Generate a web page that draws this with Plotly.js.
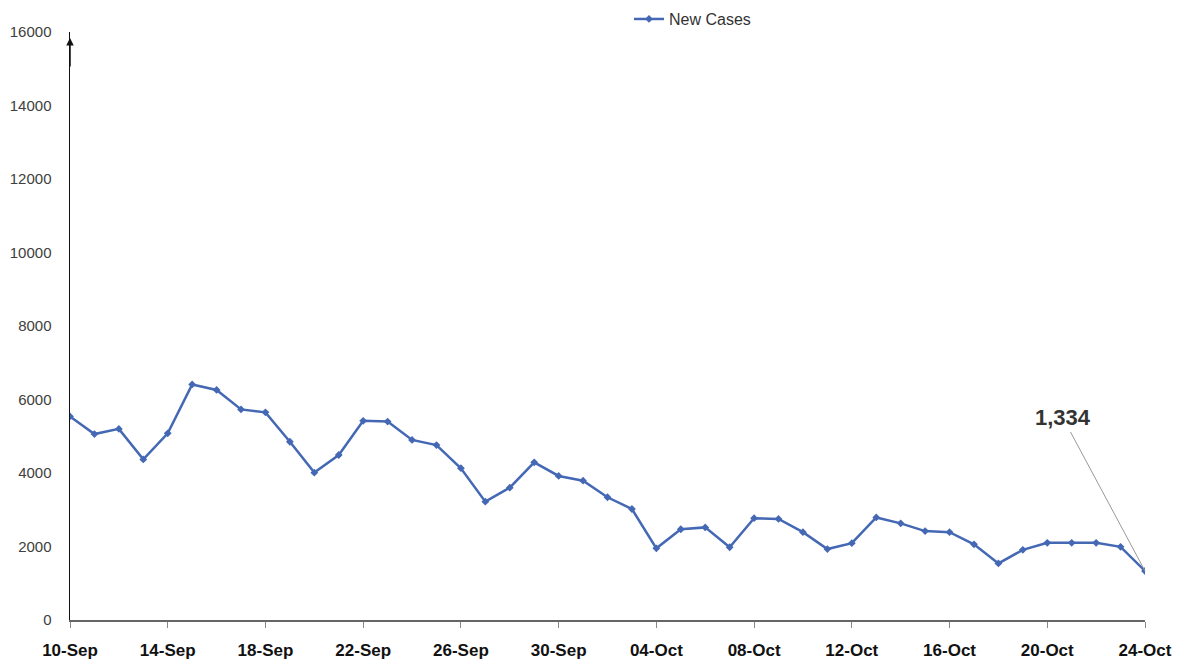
<!DOCTYPE html>
<html>
<head>
<meta charset="utf-8">
<script src="https://cdn.plot.ly/plotly-3.0.1.min.js"></script>
<style>html,body{margin:0;padding:0;background:#fff;}#chart{width:1181px;height:664px;}</style>
</head>
<body>
<div id="chart"></div>
<script>
const dates = ["10-Sep","11-Sep","12-Sep","13-Sep","14-Sep","15-Sep","16-Sep","17-Sep","18-Sep","19-Sep",
  "20-Sep","21-Sep","22-Sep","23-Sep","24-Sep","25-Sep","26-Sep","27-Sep","28-Sep","29-Sep",
  "30-Sep","01-Oct","02-Oct","03-Oct","04-Oct","05-Oct","06-Oct","07-Oct","08-Oct","09-Oct",
  "10-Oct","11-Oct","12-Oct","13-Oct","14-Oct","15-Oct","16-Oct","17-Oct","18-Oct","19-Oct",
  "20-Oct","21-Oct","22-Oct","23-Oct","24-Oct"];
const newCases = [5540,5060,5200,4370,5080,6410,6260,5730,5650,4850,
  4010,4490,5420,5400,4900,4760,4130,3220,3600,4290,
  3920,3790,3340,3020,1950,2470,2520,1980,2770,2750,
  2390,1930,2090,2790,2630,2420,2390,2060,1540,1910,
  2100,2100,2100,1990,1334];
const tickLabels = ["10-Sep","14-Sep","18-Sep","22-Sep","26-Sep","30-Sep","04-Oct","08-Oct","12-Oct","16-Oct","20-Oct","24-Oct"];
const yTicks = [0,2000,4000,6000,8000,10000,12000,14000,16000];
const lastLabel = "1,334";

const blue = "#4468b4";
const trace = {
  x: dates, y: newCases, type: "scatter", mode: "lines+markers", name: "New Cases",
  line: {color: blue, width: 2.5},
  marker: {color: blue, size: 6, symbol: "diamond"}
};
const layout = {
  width: 1181, height: 664,
  margin: {l: 70, r: 36, t: 32, b: 44, autoexpand: false},
  paper_bgcolor: "#fff", plot_bgcolor: "#fff",
  font: {family: "Liberation Sans, Arial, sans-serif"},
  showlegend: true,
  legend: {orientation: "h", x: 0.52, xanchor: "left", y: 1.022, yanchor: "middle",
    font: {size: 16, color: "#333"}, bgcolor: "rgba(0,0,0,0)"},
  xaxis: {type: "category", range: [0, dates.length - 1], tickmode: "array", tickvals: tickLabels, ticktext: tickLabels,
    showgrid: false, zeroline: false, showline: true, linecolor: "#666", linewidth: 1.5,
    ticks: "outside", ticklen: 6, tickcolor: "#888", ticklabelstandoff: 8,
    tickfont: {size: 17, color: "#111", family: "Liberation Sans, Arial, sans-serif", weight: "bold"}},
  yaxis: {range: [0, 16000], tickmode: "array", tickvals: yTicks, ticktext: yTicks.map(String),
    showgrid: false, zeroline: false, showline: true, linecolor: "#111", linewidth: 1.5,
    ticks: "", ticklabelstandoff: 14,
    tickfont: {size: 15, color: "#404040"}},
  annotations: [
    {xref: "paper", yref: "paper", x: 0, y: 0.99, ax: 0, ay: 30, showarrow: true, arrowhead: 2, arrowsize: 1, arrowwidth: 1.5, arrowcolor: "#111", text: ""},
    {x: dates[dates.length - 1], y: newCases[newCases.length - 1], xref: "x", yref: "y",
     text: "<b>" + lastLabel + "</b>", showarrow: true, arrowhead: 0, arrowwidth: 1, arrowcolor: "#999",
     ax: -82, ay: -153, font: {size: 22, color: "#333"}}
  ]
};
Plotly.newPlot("chart", [trace], layout, {displayModeBar: false, staticPlot: true});
</script>
</body>
</html>
